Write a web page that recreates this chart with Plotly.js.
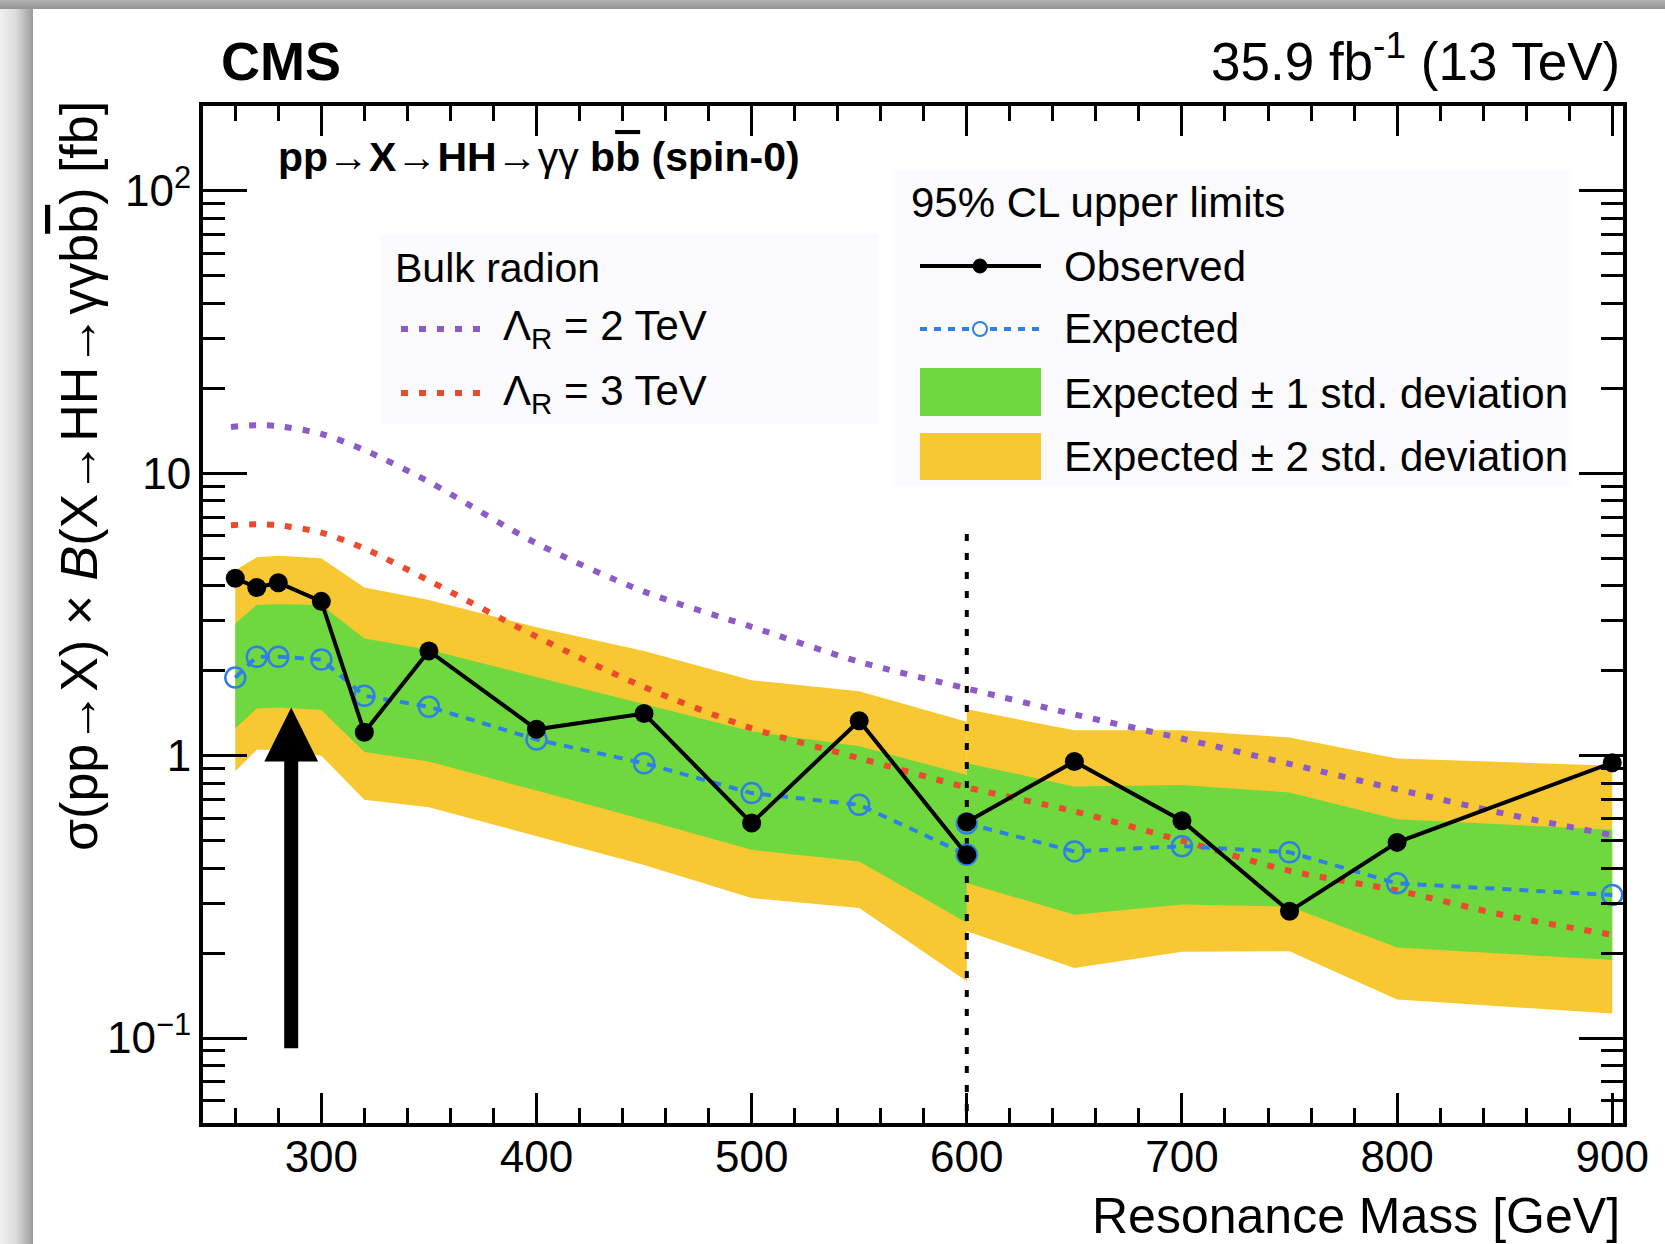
<!DOCTYPE html>
<html>
<head>
<meta charset="utf-8">
<script src="https://cdn.plot.ly/plotly-3.0.1.min.js"></script>
<style>
  html, body { margin: 0; padding: 0; background: #fff; }
  #plot { position: absolute; left: 0; top: 0; width: 1665px; height: 1244px; }
  .edge { position: absolute; pointer-events: none; z-index: 5; }
  #edge-left { left: 0; top: 0; width: 33px; height: 1244px;
    background: linear-gradient(to right, #f0f0f0 0%, #dddddd 45%, #b3b3b3 82%, #999999 100%); }
  #edge-top { left: 0; top: 0; width: 1665px; height: 9px;
    background: linear-gradient(to bottom, #b2b2b2, #939393); }
</style>
</head>
<body>
<div id="plot"></div>
<div id="edge-left" class="edge"></div>
<div id="edge-top" class="edge"></div>
<script>
// Resonance masses (GeV) of the low-mass and high-mass analyses
const MASS_LOW  = [260, 270, 280, 300, 320, 350, 400, 450, 500, 550, 600];
const MASS_HIGH = [600, 650, 700, 750, 800, 900];

// 95% CL upper limits on sigma(pp->X) x B(X->HH->gg bb) in fb
const OBS_LOW  = [4.25, 3.94, 4.10, 3.52, 1.21, 2.35, 1.24, 1.41, 0.577, 1.33, 0.446];
const OBS_HIGH = [0.582, 0.954, 0.588, 0.281, 0.493, 0.944];
const EXP_LOW  = [1.89, 2.24, 2.24, 2.19, 1.63, 1.49, 1.14, 0.94, 0.737, 0.67, 0.446];
const EXP_HIGH = [0.575, 0.458, 0.478, 0.455, 0.353, 0.321];

// Expected limit bands: +2, +1, -1, -2 standard deviations
const P2_LOW  = [4.54, 5.04, 5.11, 5.00, 3.94, 3.56, 2.85, 2.35, 1.85, 1.69, 1.32];
const P1_LOW  = [2.94, 3.42, 3.44, 3.42, 2.60, 2.37, 1.90, 1.52, 1.22, 1.08, 0.855];
const M1_LOW  = [1.25, 1.47, 1.48, 1.45, 1.03, 0.954, 0.752, 0.593, 0.464, 0.422, 0.256];
const M2_LOW  = [0.88, 1.05, 1.05, 1.00, 0.698, 0.656, 0.519, 0.41, 0.313, 0.289, 0.159];
const P2_HIGH = [1.46, 1.23, 1.23, 1.16, 0.977, 0.922];
const P1_HIGH = [0.94, 0.778, 0.787, 0.741, 0.596, 0.546];
const M1_HIGH = [0.354, 0.273, 0.297, 0.292, 0.209, 0.189];
const M2_HIGH = [0.239, 0.177, 0.202, 0.203, 0.137, 0.122];

// Bulk radion cross section x branching fraction predictions (fb)
const THEORY_MASS = [258, 270, 280, 300, 320, 350, 400, 450, 500, 550, 600, 650, 700, 750, 800, 850, 900];
const RADION_2TEV = [14.6, 14.8, 14.7, 13.8, 12.1, 9.33, 5.65, 3.81, 2.86, 2.15, 1.73, 1.40, 1.15, 0.935, 0.76, 0.623, 0.523];
const RADION_3TEV = [6.55, 6.6, 6.55, 6.17, 5.42, 4.17, 2.64, 1.75, 1.25, 0.98, 0.772, 0.635, 0.50, 0.391, 0.333, 0.272, 0.232];

// Boundary between the two mass regions
const BOUNDARY_MASS = 600;
const BOUNDARY_TOP = 6.1;

// Pointer arrow (mass in GeV, heights in fb)
const ARROW_MASS = 286, ARROW_HALF = 12.5, ARROW_TIP = 1.48, ARROW_BASE = 0.954, ARROW_TAIL = 0.092;

// Axis ticks
const X_RANGE = [245, 905];
const Y_RANGE = [0.05, 200];
const Y_TICKS = [0.1, 1, 10, 100];
const Y_TICK_TEXT = ['10<sup>\u22121</sup>', '1', '10', '10<sup>2</sup>'];

const FONT = 'Liberation Sans, Arial, Helvetica, sans-serif';
const C_YELLOW = '#f8c832', C_GREEN = '#6fd83f', C_PURPLE = '#8d5bc7',
      C_RED = '#ec4a2c', C_BLUE = '#2f80e6', C_BOX = '#fbfafd';

// Page and frame geometry (pixels)
const W = 1665, H = 1244;
const M = { l: 203, r: 42, t: 106, b: 121 };
const PW = W - M.l - M.r, PH = H - M.t - M.b;
const fx = px => (px - M.l) / PW;
const fy = py => (M.t + PH - py) / PH;

function band(x, lo, hi, color) {
  return {
    x: x.concat(x.slice().reverse()),
    y: hi.concat(lo.slice().reverse()),
    mode: 'lines', fill: 'toself', fillcolor: color,
    line: { width: 0, color: color }, hoverinfo: 'skip', showlegend: false
  };
}

function curve(x, y, line, extra) {
  return Object.assign({
    x: x, y: y, mode: 'lines', line: line,
    hoverinfo: 'skip', showlegend: false
  }, extra || {});
}

const expMarker = { symbol: 'circle-open', size: 20, color: C_BLUE, line: { width: 2.5, color: C_BLUE } };
const obsMarker = { symbol: 'circle', size: 19, color: '#000' };

const traces = [
  band(MASS_LOW, M2_LOW, P2_LOW, C_YELLOW),
  band(MASS_HIGH, M2_HIGH, P2_HIGH, C_YELLOW),
  band(MASS_LOW, M1_LOW, P1_LOW, C_GREEN),
  band(MASS_HIGH, M1_HIGH, P1_HIGH, C_GREEN),
  curve([BOUNDARY_MASS, BOUNDARY_MASS], [BOUNDARY_TOP, Y_RANGE[0]], { color: '#000', width: 4, dash: '7px,12px' }),
  curve(THEORY_MASS, RADION_2TEV, { color: C_PURPLE, width: 6, dash: '7px,11px', shape: 'spline', smoothing: 0.8 }),
  curve(THEORY_MASS, RADION_3TEV, { color: C_RED, width: 6, dash: '7px,11px', shape: 'spline', smoothing: 0.8 }),
  curve(MASS_LOW, EXP_LOW, { color: C_BLUE, width: 4, dash: '9px,8px' }, { mode: 'lines+markers', marker: expMarker }),
  curve(MASS_HIGH, EXP_HIGH, { color: C_BLUE, width: 4, dash: '9px,8px' }, { mode: 'lines+markers', marker: expMarker }),
  curve(MASS_LOW, OBS_LOW, { color: '#000', width: 4 }, { mode: 'lines+markers', marker: obsMarker }),
  curve(MASS_HIGH, OBS_HIGH, { color: '#000', width: 4 }, { mode: 'lines+markers', marker: obsMarker }),
  curve([ARROW_MASS, ARROW_MASS], [ARROW_TAIL, ARROW_BASE * 1.02], { color: '#000', width: 14 }),
  {
    x: [ARROW_MASS - ARROW_HALF, ARROW_MASS + ARROW_HALF, ARROW_MASS, ARROW_MASS - ARROW_HALF],
    y: [ARROW_BASE, ARROW_BASE, ARROW_TIP, ARROW_BASE],
    mode: 'lines', fill: 'toself', fillcolor: '#000', line: { width: 0, color: '#000' },
    hoverinfo: 'skip', showlegend: false
  }
];

// Legend boxes and their samples
const shapes = [
  { type: 'rect', xref: 'paper', yref: 'paper', x0: fx(380), x1: fx(879), y0: fy(424), y1: fy(234), fillcolor: C_BOX, line: { width: 0 } },
  { type: 'rect', xref: 'paper', yref: 'paper', x0: fx(895), x1: fx(1569), y0: fy(486), y1: fy(170), fillcolor: C_BOX, line: { width: 0 } },
  { type: 'line', xref: 'paper', yref: 'paper', x0: fx(401), x1: fx(486), y0: fy(329), y1: fy(329), line: { color: C_PURPLE, width: 6, dash: '7px,11px' } },
  { type: 'line', xref: 'paper', yref: 'paper', x0: fx(401), x1: fx(486), y0: fy(393), y1: fy(393), line: { color: C_RED, width: 6, dash: '7px,11px' } },
  { type: 'line', xref: 'paper', yref: 'paper', x0: fx(920), x1: fx(1041), y0: fy(266), y1: fy(266), line: { color: '#000', width: 4 } },
  { type: 'circle', xref: 'paper', yref: 'paper', x0: fx(973), x1: fx(987), y0: fy(273), y1: fy(259), fillcolor: '#000', line: { color: '#000', width: 1 } },
  { type: 'line', xref: 'paper', yref: 'paper', x0: fx(920), x1: fx(1041), y0: fy(329), y1: fy(329), line: { color: C_BLUE, width: 4, dash: '7px,7px' } },
  { type: 'circle', xref: 'paper', yref: 'paper', x0: fx(973), x1: fx(987), y0: fy(336), y1: fy(322), fillcolor: C_BOX, line: { color: C_BLUE, width: 2 } },
  { type: 'rect', xref: 'paper', yref: 'paper', x0: fx(920), x1: fx(1041), y0: fy(416), y1: fy(368), fillcolor: C_GREEN, line: { width: 0 } },
  { type: 'rect', xref: 'paper', yref: 'paper', x0: fx(920), x1: fx(1041), y0: fy(480), y1: fy(433), fillcolor: C_YELLOW, line: { width: 0 } }
];

function label(text, px, py, size, anchor, extra) {
  return Object.assign({
    text: text, xref: 'paper', yref: 'paper', x: fx(px), y: fy(py),
    xanchor: anchor, yanchor: 'middle', showarrow: false,
    font: { family: FONT, size: size, color: '#000' }
  }, extra || {});
}

const OVER_B = '<span style="text-decoration:overline">b</span>';

const annotations = [
  label('<b>CMS</b>', 219, 61, 54, 'left'),
  label('35.9 fb<sup>-1</sup> (13 TeV)', 1622, 57, 53, 'right'),
  label('<b>pp</b>\u2192<b>X</b>\u2192<b>HH</b>\u2192\u03b3\u03b3 <b>b' + OVER_B + ' (spin-0)</b>', 276, 157, 41, 'left'),
  label('Bulk radion', 393, 268, 41, 'left'),
  label('\u039b<sub>R</sub> = 2 TeV', 501, 329, 42, 'left'),
  label('\u039b<sub>R</sub> = 3 TeV', 501, 393, 42, 'left'),
  label('95% CL upper limits', 909, 202, 42, 'left'),
  label('Observed', 1062, 266, 42, 'left'),
  label('Expected', 1062, 329, 42, 'left'),
  label('Expected \u00b1 1 std. deviation', 1062, 393, 42, 'left'),
  label('Expected \u00b1 2 std. deviation', 1062, 456, 42, 'left'),
  label('Resonance Mass [GeV]', 1622, 1216, 50, 'right'),
  label('\u03c3(pp\u2192X) \u00d7 <i>B</i>(X\u2192HH\u2192\u03b3\u03b3b' + OVER_B + ') [fb]', 79, 476, 52, 'center', { textangle: -90 })
];

// Minor log ticks 2..9 of every decade in range
const yMinor = [];
for (let d = -2; d <= 2; d++) {
  for (let k = 2; k <= 9; k++) {
    const v = k * Math.pow(10, d);
    if (v >= Y_RANGE[0] && v <= Y_RANGE[1]) yMinor.push(v);
  }
}

const axisCommon = {
  showline: true, linewidth: 4, linecolor: '#000', mirror: 'allticks',
  ticks: 'inside', tickwidth: 3, tickcolor: '#000',
  showgrid: false, zeroline: false, fixedrange: true,
  tickfont: { family: FONT, size: 44, color: '#000' }
};

const layout = {
  width: W, height: H,
  margin: M,
  paper_bgcolor: '#fff', plot_bgcolor: '#fff',
  showlegend: false, hovermode: false,
  xaxis: Object.assign({}, axisCommon, {
    type: 'linear', range: X_RANGE, tickmode: 'linear', tick0: 0, dtick: 100,
    ticklen: 30, ticklabelstandoff: -8,
    minor: { ticks: 'inside', dtick: 20, tick0: 0, ticklen: 15, tickwidth: 3, tickcolor: '#000' }
  }),
  yaxis: Object.assign({}, axisCommon, {
    type: 'log', range: [Math.log10(Y_RANGE[0]), Math.log10(Y_RANGE[1])],
    tickmode: 'array', tickvals: Y_TICKS, ticktext: Y_TICK_TEXT,
    ticklen: 44, ticklabelstandoff: -1,
    minor: { ticks: 'inside', tickmode: 'array', tickvals: yMinor, ticklen: 22, tickwidth: 3, tickcolor: '#000' }
  }),
  shapes: shapes,
  annotations: annotations
};

Plotly.newPlot('plot', traces, layout, { displayModeBar: false, staticPlot: true });
</script>
</body>
</html>
